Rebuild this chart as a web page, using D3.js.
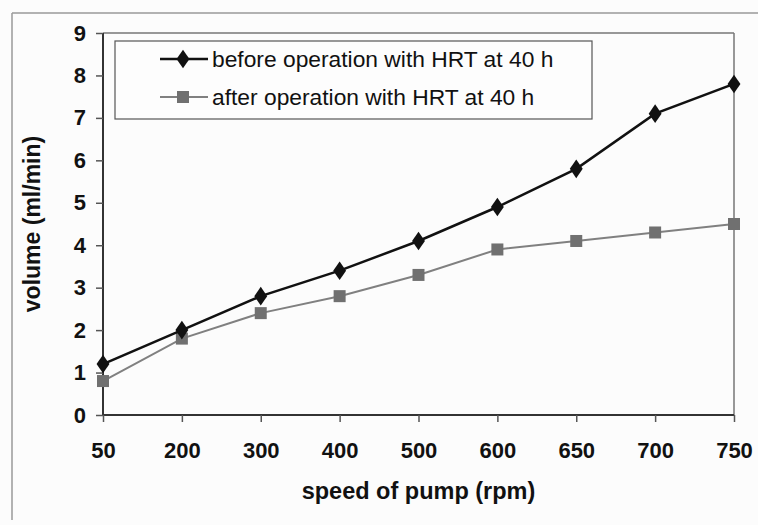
<!DOCTYPE html>
<html>
<head>
<meta charset="utf-8">
<script src="https://cdn.jsdelivr.net/npm/d3@7"></script>
<style>
  html, body { margin: 0; padding: 0; background: #fcfcfc; }
  svg { display: block; }
  text { font-family: "Liberation Sans", Arial, sans-serif; }
</style>
</head>
<body>
<svg id="chart" width="758" height="525"></svg>
<script>
const categories = ["50", "200", "300", "400", "500", "600", "650", "700", "750"];
const beforeValues = [1.2, 2.0, 2.8, 3.4, 4.1, 4.9, 5.8, 7.1, 7.8];
const afterValues  = [0.8, 1.8, 2.4, 2.8, 3.3, 3.9, 4.1, 4.3, 4.5];
const yTicks = [0, 1, 2, 3, 4, 5, 6, 7, 8, 9];
const seriesNames = ["before operation with HRT at 40 h", "after operation with HRT at 40 h"];

const svg = d3.select("#chart");
const pLeft = 103, pRight = 734, pTop = 33, pBottom = 415;

// outer chart frame (clipped at right/bottom in reference)
svg.append("line").attr("x1", 12).attr("x2", 758).attr("y1", 13).attr("y2", 13)
  .attr("stroke", "#9a9a9a").attr("stroke-width", 1.5);
svg.append("line").attr("x1", 12).attr("x2", 12).attr("y1", 13).attr("y2", 520)
  .attr("stroke", "#9a9a9a").attr("stroke-width", 1.5);

const x = d3.scalePoint().domain(categories).range([pLeft, pRight]);
const y = d3.scaleLinear().domain([0, 9]).range([pBottom, pTop]);

// plot area top/right borders
svg.append("line").attr("x1", pLeft).attr("x2", pRight).attr("y1", pTop).attr("y2", pTop)
  .attr("stroke", "#777").attr("stroke-width", 1.5);
svg.append("line").attr("x1", pRight).attr("x2", pRight).attr("y1", pTop).attr("y2", pBottom)
  .attr("stroke", "#777").attr("stroke-width", 1.5);

// axes
const xAxis = svg.append("g").attr("transform", `translate(0,${pBottom})`)
  .call(d3.axisBottom(x).tickSize(7).tickPadding(20));
const yAxis = svg.append("g").attr("transform", `translate(${pLeft},0)`)
  .call(d3.axisLeft(y).tickValues(yTicks).tickSize(7).tickPadding(10).tickFormat(d3.format("d")));

[xAxis, yAxis].forEach(g => {
  g.select(".domain").attr("stroke", "#333").attr("stroke-width", 2);
  g.selectAll(".tick line").attr("stroke", "#555").attr("stroke-width", 1.5);
  g.selectAll(".tick text").attr("fill", "#111").attr("font-size", 22).attr("font-weight", "bold")
    .attr("font-family", "'Liberation Sans', Arial, sans-serif");
});
xAxis.select(".domain").attr("d", `M${pLeft},0H${pRight}`);
yAxis.select(".domain").attr("d", `M0,${pBottom}V${pTop}`);

// axis titles
svg.append("text").attr("x", (pLeft + pRight) / 2).attr("y", 499)
  .attr("text-anchor", "middle").attr("font-size", 23.5).attr("font-weight", "bold")
  .attr("fill", "#111").text("speed of pump (rpm)");
svg.append("text").attr("transform", `translate(40,${(pTop + pBottom) / 2}) rotate(-90)`)
  .attr("text-anchor", "middle").attr("font-size", 23).attr("font-weight", "bold")
  .attr("fill", "#111").text("volume (ml/min)");

const line = d3.line().x((d, i) => x(categories[i])).y(d => y(d));

// after series
svg.append("path").datum(afterValues).attr("d", line)
  .attr("fill", "none").attr("stroke", "#808080").attr("stroke-width", 2);
svg.selectAll(".sq").data(afterValues).enter().append("rect")
  .attr("x", (d, i) => x(categories[i]) - 6).attr("y", d => y(d) - 6)
  .attr("width", 12).attr("height", 12).attr("fill", "#707070");

// before series
svg.append("path").datum(beforeValues).attr("d", line)
  .attr("fill", "none").attr("stroke", "#111").attr("stroke-width", 2.5);
const diamond = d3.symbol().type(d3.symbolDiamond).size(100);
svg.selectAll(".dm").data(beforeValues).enter().append("path")
  .attr("d", diamond)
  .attr("transform", (d, i) => `translate(${x(categories[i])},${y(d)}) scale(1.2,1)`)
  .attr("fill", "#111");

// legend
svg.append("rect").attr("x", 115).attr("y", 41).attr("width", 477).attr("height", 78)
  .attr("fill", "#fdfdfd").attr("stroke", "#555").attr("stroke-width", 1.2);
const legY = [59, 97];
// row 1
svg.append("line").attr("x1", 160).attr("x2", 208).attr("y1", legY[0]).attr("y2", legY[0])
  .attr("stroke", "#111").attr("stroke-width", 2.5);
svg.append("path").attr("d", diamond).attr("transform", `translate(183,${legY[0]}) scale(1.2,1)`)
  .attr("fill", "#111");
svg.append("text").attr("x", 212).attr("y", legY[0] + 7.5).attr("font-size", 22.8)
  .attr("fill", "#111").text(seriesNames[0]);
// row 2
svg.append("line").attr("x1", 160).attr("x2", 208).attr("y1", legY[1]).attr("y2", legY[1])
  .attr("stroke", "#808080").attr("stroke-width", 2);
svg.append("rect").attr("x", 183 - 6).attr("y", legY[1] - 6).attr("width", 12).attr("height", 12)
  .attr("fill", "#707070");
svg.append("text").attr("x", 212).attr("y", legY[1] + 7.5).attr("font-size", 22.8)
  .attr("fill", "#111").text(seriesNames[1]);
</script>
</body>
</html>
